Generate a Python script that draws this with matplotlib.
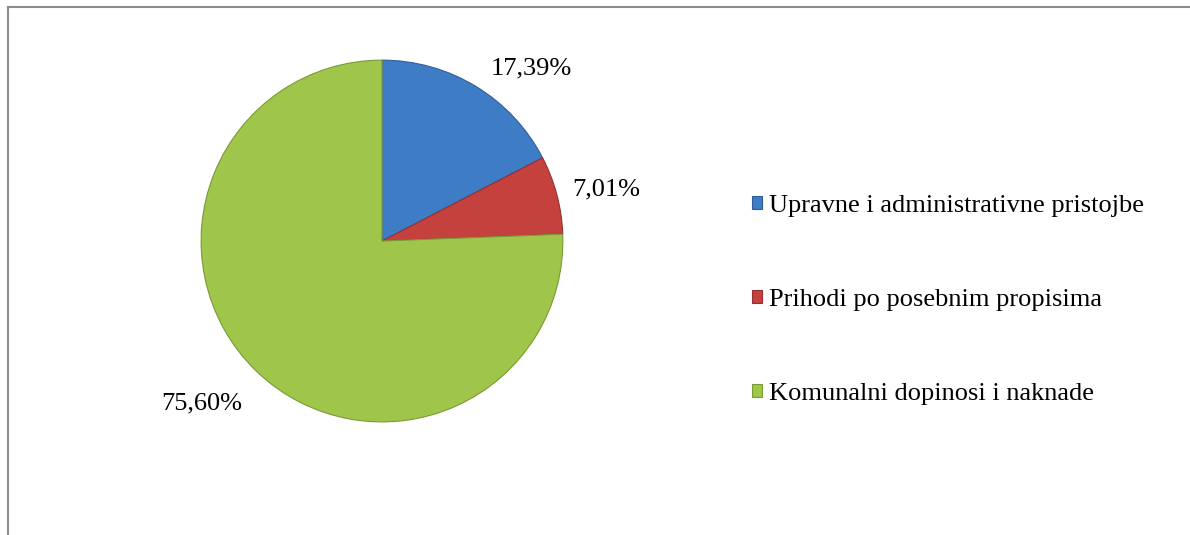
import numpy as np
import matplotlib
matplotlib.use('Agg')
import matplotlib.pyplot as plt
from matplotlib.lines import Line2D

kategorije = ['Upravne i administrativne pristojbe',
              'Prihodi po posebnim propisima',
              'Komunalni dopinosi i naknade']
udjeli = [17.39, 7.01, 75.60]
boje = ['#3F7CC6', '#C5413E', '#9FC54A']
rubovi = ['#2E5E9A', '#943030', '#7A9A35']

plt.rcParams['font.family'] = ['Liberation Serif', 'DejaVu Serif']

fig = plt.figure(figsize=(11.9, 5.35), dpi=100)

# okvir (gornja i lijeva linija)
fig.add_artist(Line2D([8 / 1190, 1.0], [1 - 7 / 535, 1 - 7 / 535], color='#8C8C8C', lw=1.5))
fig.add_artist(Line2D([8 / 1190, 8 / 1190], [0.0, 1 - 7 / 535], color='#8C8C8C', lw=1.5))

ax = fig.add_axes([0.169, 0.211, 0.304, 0.677])
klinovi, _ = ax.pie(udjeli, colors=boje, startangle=90, counterclock=False,
                    wedgeprops=dict(edgecolor='white', linewidth=0.8))
for k, r in zip(klinovi, rubovi):
    k.set_edgecolor(r)
ax.set_xlim(-1, 1)
ax.set_ylim(-1, 1)

# oznake postotaka (Excel "best fit")
pomaci = [(-9.5, 1.26), (-1.8, 1.27), (-4.0, 1.34)]
kut = 90
for u, (dk, rr) in zip(udjeli, pomaci):
    sredina = kut - u * 3.6 / 2
    kut -= u * 3.6
    a = np.deg2rad(sredina + dk)
    ax.text(rr * np.cos(a), rr * np.sin(a), f'{u:.2f}%'.replace('.', ','),
            ha='center', va='center', fontsize=19)

ax.legend(klinovi, kategorije, loc='center left', frameon=False, fontsize=19,
          handlelength=0.4, handleheight=0.4, handletextpad=0.25,
          labelspacing=2.72, borderaxespad=0,
          bbox_to_anchor=(741 / 1190, 1 - 300 / 535), bbox_transform=fig.transFigure)

fig.savefig('out.png', dpi=100)
